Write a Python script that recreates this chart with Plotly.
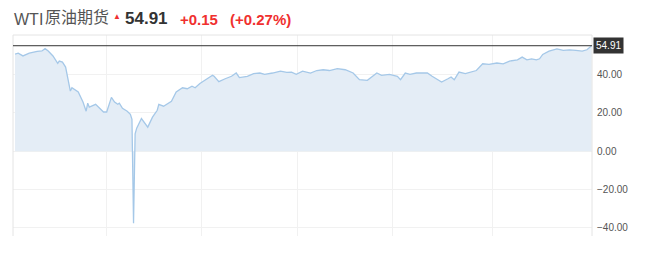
import plotly.graph_objects as go

# day offsets (approx. one year of WTI crude futures) and prices
days = [0, 2, 5, 9, 14, 17, 19, 21, 24, 27, 28, 30, 32, 35, 36, 38, 40, 43, 45, 46, 47,
        51, 54, 56, 58, 61, 63, 65, 66, 68, 71, 73, 74, 75, 76, 77, 80, 84, 87, 90, 91,
        94, 99, 102, 106, 109, 112, 114, 117, 120, 122, 125, 126, 129, 133, 137, 140,
        142, 147, 151, 155, 158, 163, 168, 172, 175, 178, 182, 187, 191, 195, 199, 204,
        209, 214, 218, 223, 226, 229, 232, 237, 242, 244, 247, 250, 254, 261, 264, 270,
        274, 276, 278, 281, 285, 288, 292, 296, 300, 305, 309, 313, 318, 321, 324, 327,
        330, 332, 334, 338, 343, 347, 351, 355, 359, 362, 365]
prices = [50.5, 51.0, 49.6, 51.0, 52.0, 52.2, 53.4, 52.2, 49.6, 45.7, 46.9, 46.4, 43.8,
          31.3, 33.0, 32.0, 30.8, 25.6, 20.8, 25.0, 22.9, 24.4, 22.3, 20.4, 20.4, 28.0,
          25.6, 24.4, 25.0, 22.3, 20.8, 19.2, 16.6, -37.6, 9.0, 12.0, 17.0, 12.5, 17.7,
          21.3, 24.4, 23.4, 26.0, 30.8, 33.0, 32.5, 33.8, 33.0, 35.2, 36.9, 38.2, 39.5,
          39.0, 36.2, 37.7, 39.0, 40.7, 38.3, 39.0, 40.4, 40.7, 40.0, 40.7, 41.7, 41.0,
          41.2, 40.0, 41.7, 40.7, 42.0, 42.4, 42.0, 43.0, 42.4, 40.7, 37.2, 36.9, 38.6,
          40.7, 39.5, 40.0, 39.0, 37.2, 40.7, 40.0, 40.7, 40.7, 39.0, 36.0, 37.7, 38.6,
          37.2, 41.2, 40.4, 41.2, 42.0, 45.5, 45.2, 45.9, 45.5, 46.9, 47.6, 49.0, 47.6,
          48.1, 47.6, 48.1, 50.4, 52.1, 53.3, 52.5, 52.8, 52.5, 52.1, 52.8, 54.91]
y_ticks = [-40, -20, 0, 20, 40]
x_grid = [58, 118, 179, 239, 302]
last_price = "54.91"
change = "+0.15"
change_pct = "(+0.27%)"
title_latin = "WTI"
title_cjk = "原油期货"

LINE = "#a5c8e8"
FILL = "#e4edf6"
GRID = "#f1f1f1"
BORDER = "#e4e4e4"
RED = "#f0302f"
LATIN = "Arial, Liberation Sans"

fig = go.Figure()
fig.add_trace(go.Scatter(
    x=days, y=prices, mode="lines",
    line=dict(color=LINE, width=1.3),
    fill="tozeroy", fillcolor=FILL,
    hoverinfo="skip", showlegend=False,
))

fig.update_layout(
    width=650, height=255,
    margin=dict(l=13, r=58, t=35, b=19),
    paper_bgcolor="white", plot_bgcolor="white",
    font=dict(family="Arial, Liberation Sans, Noto Sans CJK SC", color="#555"),
    xaxis=dict(range=[-1.3, 365.2], showticklabels=False, tickvals=x_grid,
               showgrid=True, gridcolor=GRID, gridwidth=1, zeroline=False,
               ticks="", showline=False, fixedrange=True),
    yaxis=dict(range=[-44.2, 60.5], side="right", tickvals=y_ticks,
               tickformat=".2f", showgrid=True, gridcolor=GRID, gridwidth=1,
               zeroline=False, ticks="", ticklabelstandoff=4,
               tickfont=dict(size=10, color="#555", family=LATIN),
               showline=False),
)

# plot frame (top, left, right)
for x0, y0, x1, y1 in [(0, 1, 1, 1), (0, 0, 0, 1), (1, 0, 1, 1)]:
    fig.add_shape(type="line", xref="paper", yref="paper", x0=x0, y0=y0, x1=x1, y1=y1,
                  line=dict(color=BORDER, width=1), layer="above")

# last price line
fig.add_shape(type="line", xref="paper", yref="y", x0=0, x1=1,
              y0=float(last_price), y1=float(last_price),
              line=dict(color="#333", width=1), layer="above")
fig.add_annotation(xref="paper", yref="y", x=1, y=float(last_price), xanchor="left",
                   yanchor="middle", text=last_price, showarrow=False,
                   bgcolor="#333", borderpad=2, xshift=1,
                   font=dict(color="white", size=10, family=LATIN))

# header
def head(text, xshift, yshift, size, color, family):
    fig.add_annotation(xref="paper", yref="paper", x=0, y=1, xanchor="left",
                       yanchor="bottom", xshift=xshift, yshift=yshift, text=text,
                       showarrow=False, font=dict(size=size, color=color, family=family))

head(title_latin, -1, 5, 16, "#555", LATIN)
head(title_cjk, 30, 5, 16, "#555", "Noto Sans CJK SC")
head("▲", 98, 12, 8, RED, LATIN)
head("<b>" + last_price + "</b>", 110, 5, 17, "#333", LATIN)
head("<b>" + change + "</b>", 165, 5, 15, RED, LATIN)
head("<b>" + change_pct + "</b>", 215, 5, 15, RED, LATIN)

fig.write_html("out.html", config={"displayModeBar": False})
